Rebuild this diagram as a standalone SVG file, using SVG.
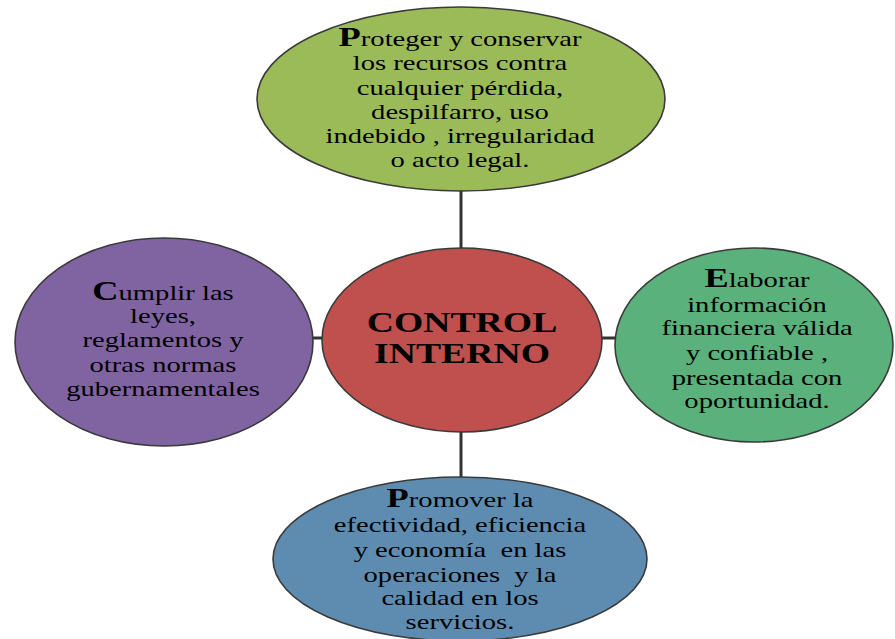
<svg xmlns="http://www.w3.org/2000/svg" width="895" height="639" viewBox="0 0 895 639">
<style>
.node{stroke:#3a3a3a;stroke-width:1.6}
.t{font-family:"Liberation Serif","Times New Roman",serif;font-size:22px;fill:#000;text-anchor:middle}
.big{font-size:28px;font-weight:bold}
.ct{font-family:"Liberation Serif","Times New Roman",serif;font-size:29px;font-weight:bold;fill:#000;text-anchor:middle}
.conn{stroke:#333;stroke-width:3;fill:none}
</style>
<rect width="895" height="639" fill="#fff"/>
<g id="connectors">
<line class="conn" x1="461" y1="190" x2="461" y2="249"/>
<line class="conn" x1="461" y1="431" x2="461" y2="478"/>
<line class="conn" x1="312" y1="338" x2="323" y2="338"/>
<line class="conn" x1="601" y1="338" x2="616" y2="338"/>
</g>
<g id="top">
<ellipse class="node" cx="461" cy="99" rx="204" ry="92" fill="#9BBB59"/>
<g transform="translate(460,0) scale(1.3,1)">
<text class="t" x="0" y="46"><tspan class="big">P</tspan>roteger y conservar</text>
<text class="t" x="0" y="70.5">los recursos contra</text>
<text class="t" x="0" y="95">cualquier pérdida,</text>
<text class="t" x="0" y="119">despilfarro, uso</text>
<text class="t" x="0" y="143.5">indebido , irregularidad</text>
<text class="t" x="0" y="167.5">o acto legal.</text>
</g>
</g>
<g id="left">
<ellipse class="node" cx="164" cy="342" rx="149" ry="104" fill="#8064A2"/>
<g transform="translate(163,0) scale(1.3,1)">
<text class="t" x="0" y="300"><tspan class="big">C</tspan>umplir las</text>
<text class="t" x="0" y="323">leyes,</text>
<text class="t" x="0" y="347">reglamentos y</text>
<text class="t" x="0" y="372">otras normas</text>
<text class="t" x="0" y="396">gubernamentales</text>
</g>
</g>
<g id="center">
<ellipse class="node" cx="462" cy="340" rx="140" ry="92" fill="#C0504D" stroke="#9c4a48" stroke-width="1"/>
<g transform="translate(462,0) scale(1.3,1)">
<text class="ct" x="0" y="332">CONTROL</text>
<text class="ct" x="0" y="363">INTERNO</text>
</g>
</g>
<g id="right">
<ellipse class="node" cx="754" cy="345" rx="139" ry="97" fill="#5BB17B"/>
<g transform="translate(757,0) scale(1.3,1)">
<text class="t" x="0" y="287"><tspan class="big">E</tspan>laborar</text>
<text class="t" x="0" y="312">información</text>
<text class="t" x="0" y="335">financiera válida</text>
<text class="t" x="0" y="360">y confiable ,</text>
<text class="t" x="0" y="385">presentada con</text>
<text class="t" x="0" y="408">oportunidad.</text>
</g>
</g>
<g id="bottom">
<ellipse class="node" cx="460" cy="559" rx="187" ry="82" fill="#5E8CB1"/>
<g transform="translate(460,0) scale(1.3,1)">
<text class="t" x="0" y="507"><tspan class="big">P</tspan>romover la</text>
<text class="t" x="0" y="532">efectividad, eficiencia</text>
<text class="t" x="0" y="557" xml:space="preserve">y economía  en las</text>
<text class="t" x="0" y="582" xml:space="preserve">operaciones  y la</text>
<text class="t" x="0" y="605">calidad en los</text>
<text class="t" x="0" y="629">servicios.</text>
</g>
</g>
</svg>
